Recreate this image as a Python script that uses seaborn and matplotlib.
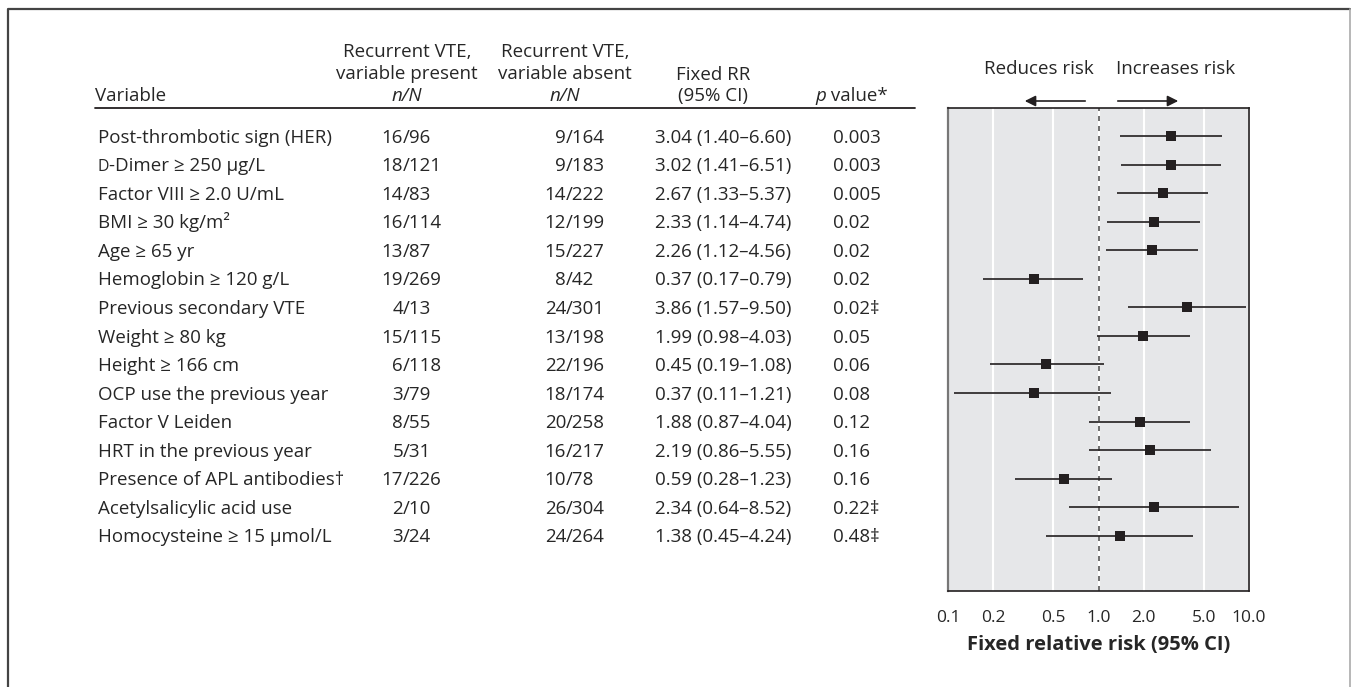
import matplotlib
matplotlib.use("Agg")
import matplotlib.pyplot as plt
import matplotlib.transforms as mtransforms
from matplotlib.lines import Line2D
from matplotlib.patches import FancyArrowPatch
import seaborn as sns
import pandas as pd

variables = ["Post-thrombotic sign (HER)", "D-Dimer ≥ 250 μg/L", "Factor VIII ≥ 2.0 U/mL",
             "BMI ≥ 30 kg/m²", "Age ≥ 65 yr", "Hemoglobin ≥ 120 g/L", "Previous secondary VTE",
             "Weight ≥ 80 kg", "Height ≥ 166 cm", "OCP use the previous year", "Factor V Leiden",
             "HRT in the previous year", "Presence of APL antibodies†", "Acetylsalicylic acid use",
             "Homocysteine ≥ 15 μmol/L"]
present = ["16/96", "18/121", "14/83", "16/114", "13/87", "19/269", "4/13", "15/115", "6/118",
           "3/79", "8/55", "5/31", "17/226", "2/10", "3/24"]
absent = ["9/164", "9/183", "14/222", "12/199", "15/227", "8/42", "24/301", "13/198", "22/196",
          "18/174", "20/258", "16/217", "10/78", "26/304", "24/264"]
rr = [3.04, 3.02, 2.67, 2.33, 2.26, 0.37, 3.86, 1.99, 0.45, 0.37, 1.88, 2.19, 0.59, 2.34, 1.38]
ci_low = [1.40, 1.41, 1.33, 1.14, 1.12, 0.17, 1.57, 0.98, 0.19, 0.11, 0.87, 0.86, 0.28, 0.64, 0.45]
ci_high = [6.60, 6.51, 5.37, 4.74, 4.56, 0.79, 9.50, 4.03, 1.08, 1.21, 4.04, 5.55, 1.23, 8.52, 4.24]
p_values = ["0.003", "0.003", "0.005", "0.02", "0.02", "0.02", "0.02‡", "0.05", "0.06", "0.08",
            "0.12", "0.16", "0.16", "0.22‡", "0.48‡"]
tick_values = [0.1, 0.2, 0.5, 1.0, 2.0, 5.0, 10.0]
tick_labels = ["0.1", "0.2", "0.5", "1.0", "2.0", "5.0", "10.0"]

df = pd.DataFrame({"variable": variables, "rr": rr, "low": ci_low, "high": ci_high})
df["row"] = range(len(df))

sns.set_style("white")
plt.rcParams["font.family"] = ["Open Sans", "DejaVu Sans"]

W, H = 1351, 687
fig = plt.figure(figsize=(W / 100, H / 100), dpi=100)
renderer = fig.canvas.get_renderer()
ink = "#231f20"


def fx(px):
    return px / W


def fy(py):
    return 1 - py / H


# outer frame
fig.add_artist(Line2D([fx(8), fx(8), fx(1350)], [fy(690), fy(9), fy(9)],
                      transform=fig.transFigure, color="#444444", lw=1.6))
fig.add_artist(Line2D([fx(1350), fx(1350)], [fy(9), fy(690)],
                      transform=fig.transFigure, color="#aaaaaa", lw=1.2))

# forest plot panel
ax = fig.add_axes([fx(948), fy(591), fx(1249) - fx(948), fy(108) - fy(591)])
ax.set_facecolor("#e6e7e9")
ax.set_xscale("log")
ax.set_xlim(0.1, 10)
ax.set_ylim(15.93, -0.98)
ax.set_xticks(tick_values)
ax.set_xticklabels(tick_labels)
ax.minorticks_off()
ax.set_yticks([])
ax.grid(axis="x", color="white", lw=1.5)
ax.set_axisbelow(True)
ax.axvline(1.0, color="#555555", lw=1.2, ls=(0, (3, 3)), zorder=1.5)

ax.hlines(df["row"], df["low"], df["high"], color=ink, lw=1.2, zorder=2)
sns.scatterplot(data=df, x="rr", y="row", marker="s", s=58, color=ink,
                edgecolor=ink, linewidth=0, ax=ax, zorder=3, legend=False)
ax.set_ylabel("")
ax.set_xlabel("Fixed relative risk (95% CI)", fontsize=14.5, fontweight="bold", labelpad=6)
ax.tick_params(axis="x", length=10, width=1.2, direction="out", labelsize=12.5, pad=4, color=ink)
for side in ["right", "bottom", "top"]:
    ax.spines[side].set_color(ink)
    ax.spines[side].set_linewidth(1.2)
ax.spines["left"].set_color("#777777")
ax.spines["left"].set_linewidth(1.6)

# direction labels and arrows
fig.text(fx(1094), fy(69), "Reduces risk", ha="right", va="center", fontsize=13.5)
fig.text(fx(1116), fy(69), "Increases risk", ha="left", va="center", fontsize=13.5)
arrow = dict(arrowstyle="-|>", color=ink, lw=1.2, mutation_scale=16)
fig.add_artist(FancyArrowPatch((fx(1088), fy(101)), (fx(1022), fy(101)),
                               transform=fig.transFigure, **arrow))
fig.add_artist(FancyArrowPatch((fx(1115), fy(101)), (fx(1181), fy(101)),
                               transform=fig.transFigure, **arrow))

# table headers
fs = 13.5
fig.text(fx(95), fy(94), "Variable", ha="left", va="center_baseline", fontsize=fs)
for cx, lines in [(407, ["Recurrent VTE,", "variable present"]),
                  (565, ["Recurrent VTE,", "variable absent"])]:
    fig.text(fx(cx), fy(50), lines[0], ha="center", va="center_baseline", fontsize=fs)
    fig.text(fx(cx), fy(72), lines[1], ha="center", va="center_baseline", fontsize=fs)
    fig.text(fx(cx), fy(94), "n/N", ha="center", va="center_baseline", fontsize=fs, style="italic")
fig.text(fx(713), fy(73), "Fixed RR", ha="center", va="center_baseline", fontsize=fs)
fig.text(fx(713), fy(94), "(95% CI)", ha="center", va="center_baseline", fontsize=fs)
fig.text(fx(815), fy(94), "p", ha="left", va="center_baseline", fontsize=fs, style="italic")
fig.text(fx(826), fy(94), " value*", ha="left", va="center_baseline", fontsize=fs)
fig.add_artist(Line2D([fx(95), fx(915)], [fy(108), fy(108)], transform=fig.transFigure,
                      color=ink, lw=1.3))

# table rows, aligned to the forest plot rows (baseline a bit below the row centre)
tr = mtransforms.blended_transform_factory(fig.transFigure, ax.transData)
base = 0.23
for i in range(len(variables)):
    y = i + base
    kw = dict(transform=tr, va="baseline", fontsize=fs)
    label = variables[i]
    if label.startswith("D-"):
        # small-capital D as in the source table
        d = fig.text(fx(98), y, "D", ha="left", transform=tr, va="baseline", fontsize=fs * 0.85)
        dw = d.get_window_extent(renderer).width
        fig.text(fx(98 + dw), y, label[1:], ha="left", **kw)
    else:
        fig.text(fx(98), y, label, ha="left", **kw)
    n1, d1 = present[i].split("/")
    fig.text(fx(403), y, n1, ha="right", **kw)
    fig.text(fx(403), y, "/" + d1, ha="left", **kw)
    n2, d2 = absent[i].split("/")
    fig.text(fx(566), y, n2, ha="right", **kw)
    fig.text(fx(566), y, "/" + d2, ha="left", **kw)
    fig.text(fx(655), y, f"{rr[i]:.2f} ({ci_low[i]:.2f}–{ci_high[i]:.2f})", ha="left", **kw)
    fig.text(fx(833), y, p_values[i], ha="left", **kw)

fig.savefig("out.png", dpi=100)
